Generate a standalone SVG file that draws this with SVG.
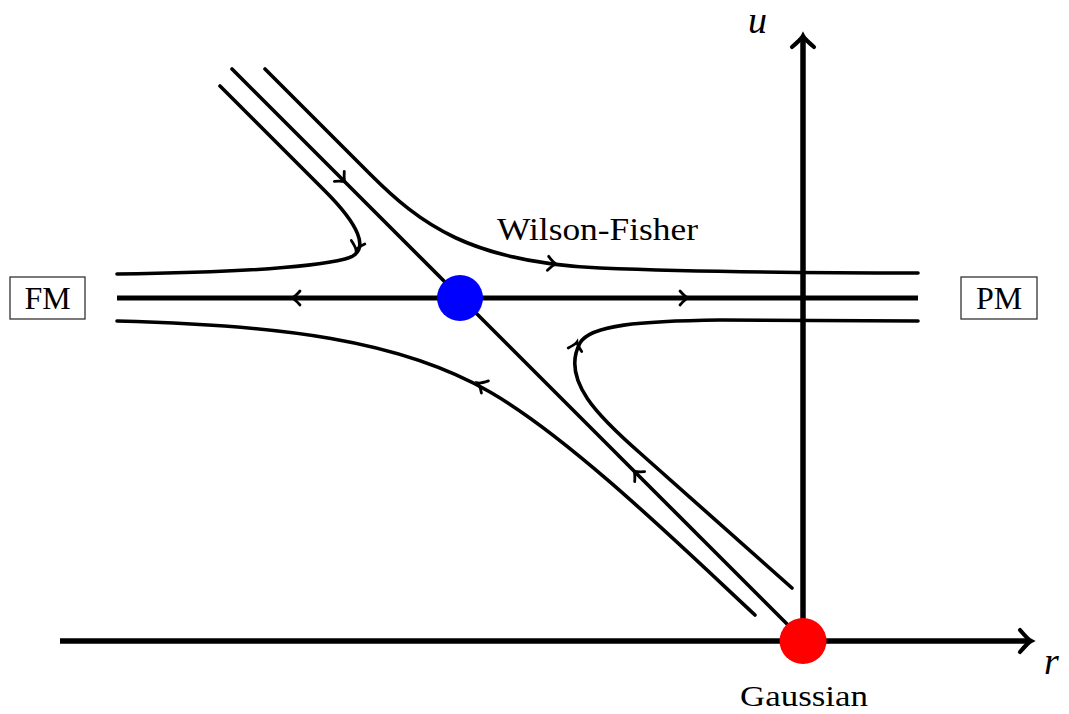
<svg xmlns="http://www.w3.org/2000/svg" xmlns:xlink="http://www.w3.org/1999/xlink" width="1069" height="714" viewBox="0 0 1069 714">
  <style>
    .flow { fill: none; stroke: #000; stroke-width: 3.6; stroke-linecap: round; stroke-linejoin: round; }
    .main { fill: none; stroke: #000; stroke-width: 5; }
    .axis { fill: none; stroke: #000; stroke-width: 5.5; }
    .box { fill: #fff; stroke: #333; stroke-width: 1.3; }
  </style>
  <defs>
    <path id="ah" d="M-8,-7 C-4,-2.5 -1.5,-0.6 0,0 C-1.5,0.6 -4,2.5 -8,7" fill="none" stroke="#000" stroke-width="2.8" stroke-linecap="round"/>
    <path id="axh" d="M-11,-11 C-5,-4 -2,-1 0,0 C-2,1 -5,4 -11,11" fill="none" stroke="#000" stroke-width="4.2" stroke-linecap="round"/>
  </defs>
  <rect width="1069" height="714" fill="#fff"/>

  <g id="axes">
    <line class="axis" x1="60" y1="641" x2="1030" y2="641"/>
    <use xlink:href="#axh" transform="translate(1031,641)"/>
    <line class="axis" x1="803" y1="641" x2="803" y2="38"/>
    <use xlink:href="#axh" transform="translate(803,36) rotate(-90)"/>
    <text x="748" y="33" font-family="'Liberation Serif', 'DejaVu Serif', serif" font-size="38" font-style="italic">u</text>
    <text x="1044" y="674" font-family="'Liberation Serif', 'DejaVu Serif', serif" font-size="38" font-style="italic">r</text>
  </g>

  <g id="connectors">
    <line class="main" x1="117" y1="298" x2="918" y2="298"/>
    <line class="flow" x1="232" y1="69" x2="792" y2="629"/>
    <path class="flow" d="M220,86 L325,191 C355,221 375,252 345,259 C300,270 200,273 117,274"/>
    <path class="flow" d="M265,69 L370,174 C420,224 470,262 600,268 C700,272 800,273 918,273"/>
    <path class="flow" d="M117,321 C280,325 400,340 490,392 C570,438 680,545 755,615"/>
    <path class="flow" d="M792,588 L640,453 C600,418 560,380 580,343 C590,325 640,321 720,320 L918,321"/>
    <use xlink:href="#ah" transform="translate(292,298) rotate(180)"/>
    <use xlink:href="#ah" transform="translate(688,298)"/>
    <use xlink:href="#ah" transform="translate(345,182) rotate(45)"/>
    <use xlink:href="#ah" transform="translate(634,471) rotate(-135)"/>
    <use xlink:href="#ah" transform="translate(356,250) rotate(105)"/>
    <use xlink:href="#ah" transform="translate(556,264) rotate(5)"/>
    <use xlink:href="#ah" transform="translate(478,383) rotate(-150)"/>
    <use xlink:href="#ah" transform="translate(577,342) rotate(-75)"/>
  </g>

  <g id="fm">
    <rect class="box" x="10" y="277" width="75" height="42"/>
    <text x="47.5" y="309" font-family="'Liberation Serif', 'DejaVu Serif', serif" font-size="32" text-anchor="middle">FM</text>
  </g>
  <g id="pm">
    <rect class="box" x="961" y="277" width="76" height="42"/>
    <text x="999" y="309" font-family="'Liberation Serif', 'DejaVu Serif', serif" font-size="32" text-anchor="middle">PM</text>
  </g>

  <g id="wilson-fisher">
    <circle cx="460" cy="298" r="23" fill="#0000ff"/>
    <text x="497" y="240" font-family="'Liberation Serif', 'DejaVu Serif', serif" font-size="31" textLength="201" lengthAdjust="spacingAndGlyphs">Wilson-Fisher</text>
  </g>

  <g id="gaussian">
    <ellipse cx="803" cy="641" rx="23.5" ry="23" fill="#ff0000"/>
    <text x="740" y="706" font-family="'Liberation Serif', 'DejaVu Serif', serif" font-size="30" textLength="128" lengthAdjust="spacingAndGlyphs">Gaussian</text>
  </g>
</svg>
